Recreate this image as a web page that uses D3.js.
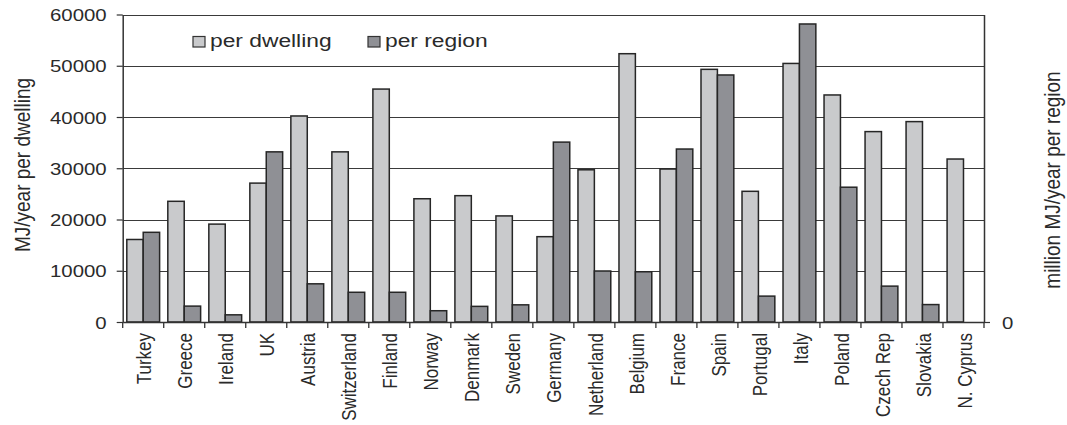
<!DOCTYPE html>
<html>
<head>
<meta charset="utf-8">
<script src="https://cdn.jsdelivr.net/npm/d3@7"></script>
<style>
  html, body { margin: 0; padding: 0; background: #fff; }
  svg { display: block; font-family: "Liberation Sans", Arial, sans-serif; }
</style>
</head>
<body>
<svg id="chart" width="1067" height="425"></svg>
<script>
const categories = ["Turkey","Greece","Ireland","UK","Austria","Switzerland","Finland","Norway","Denmark","Sweden","Germany","Netherland","Belgium","France","Spain","Portugal","Italy","Poland","Czech Rep","Slovakia","N. Cyprus"];
const perDwelling = [16100,23550,19100,27100,40200,33200,45450,24050,24650,20700,16650,29700,52350,29850,49300,25500,50450,44300,37150,39100,31800];
const perRegion   = [17500,3100,1400,33200,7450,5800,5800,2200,3050,3350,35100,9950,9800,33750,48200,5050,58150,26300,7000,3400,null];
const seriesNames = ["per dwelling","per region"];
const leftTicks = [0,10000,20000,30000,40000,50000,60000];
const rightTicks = [0];
const yTitleLeft = "MJ/year per dwelling";
const yTitleRight = "million MJ/year per region";

const colors = ["#c9cacc","#8f9095"];
const SX = 1.2; // horizontal stretch of the original picture's text

const svg = d3.select("#chart");
const m = {left: 122.7, right: 984, top: 14.5, bottom: 322};

const x0 = d3.scaleBand().domain(categories).range([m.left, m.right]).paddingInner(0).paddingOuter(0);
const x1 = d3.scaleBand().domain(seriesNames).range([0, x0.bandwidth()]).paddingInner(0).paddingOuter(0.25);
const y = d3.scaleLinear().domain([0, 60000]).range([m.bottom, m.top]);
const yR = d3.scaleLinear().domain([0, 60000]).range([m.bottom, m.top]);

// gridlines
svg.append("g").selectAll("line").data(leftTicks.filter(d => d > 0)).join("line")
  .attr("x1", m.left).attr("x2", m.right)
  .attr("y1", d => Math.round(y(d)) + 0.5).attr("y2", d => Math.round(y(d)) + 0.5)
  .attr("stroke", "#3a3a3a").attr("stroke-width", 1.2);

// bars
const rows = categories.map((c, i) => ({c, vals: [perDwelling[i], perRegion[i]]}));
const gb = svg.append("g");
rows.forEach(r => {
  r.vals.forEach((v, j) => {
    if (v == null) return;
    gb.append("rect")
      .attr("x", x0(r.c) + x1(seriesNames[j]))
      .attr("y", y(v))
      .attr("width", x1.bandwidth())
      .attr("height", y(0) - y(v))
      .attr("fill", colors[j])
      .attr("stroke", "#262626").attr("stroke-width", 1.5);
  });
});

// left axis
const gl = svg.append("g").attr("transform", `translate(${m.left},0)`)
  .call(d3.axisLeft(y).tickValues(leftTicks).tickFormat(d3.format("d")).tickSize(6).tickSizeOuter(0));
gl.select(".domain").attr("stroke", "#333").attr("stroke-width", 1.5);
gl.selectAll(".tick line").attr("stroke", "#333").attr("stroke-width", 1.2);
gl.selectAll(".tick text")
  .attr("x", 0).attr("dy", "0.36em")
  .attr("transform", `translate(-16,0) scale(${SX},1)`)
  .attr("font-size", 17).attr("fill", "#2a2a2a").attr("font-family", "Liberation Sans, Arial, sans-serif");

// right axis
const gr = svg.append("g").attr("transform", `translate(${m.right},0)`)
  .call(d3.axisRight(yR).tickValues(rightTicks).tickFormat(d3.format("d")).tickSize(6).tickSizeOuter(0));
gr.select(".domain").attr("stroke", "#333").attr("stroke-width", 1.5);
gr.selectAll(".tick line").attr("stroke", "#333").attr("stroke-width", 1.2);
gr.selectAll(".tick text")
  .attr("x", 0).attr("dy", "0.36em")
  .attr("transform", `translate(18,0) scale(${SX},1)`)
  .attr("font-size", 17).attr("fill", "#2a2a2a").attr("font-family", "Liberation Sans, Arial, sans-serif");

// bottom axis (labels)
const gx = svg.append("g").attr("transform", `translate(0,${m.bottom})`)
  .call(d3.axisBottom(x0).tickSize(0).tickSizeOuter(0));
gx.select(".domain").attr("stroke", "#333").attr("stroke-width", 1.5);
gx.selectAll(".tick text")
  .attr("x", 0).attr("y", 0).attr("dy", "0.35em")
  .attr("text-anchor", "end")
  .attr("transform", `translate(1,11) scale(${SX},1) rotate(-90)`)
  .attr("font-size", 17).attr("fill", "#2a2a2a").attr("font-family", "Liberation Sans, Arial, sans-serif");

// category boundary ticks
const bounds = categories.map(c => x0(c)).concat([m.right]);
svg.append("g").selectAll("line").data(bounds).join("line")
  .attr("x1", d => d).attr("x2", d => d)
  .attr("y1", m.bottom).attr("y2", m.bottom + 6)
  .attr("stroke", "#333").attr("stroke-width", 1.3);

// axis titles
svg.append("text")
  .attr("transform", `translate(22,165) scale(${SX},1) rotate(-90)`)
  .attr("text-anchor", "middle").attr("dy", "0.35em")
  .attr("font-size", 19).attr("fill", "#2a2a2a")
  .text(yTitleLeft);
svg.append("text")
  .attr("transform", `translate(1052,180) scale(${SX},1) rotate(-90)`)
  .attr("text-anchor", "middle").attr("dy", "0.35em")
  .attr("font-size", 19).attr("fill", "#2a2a2a")
  .text(yTitleRight);

// legend
const legendX = [193, 368];
seriesNames.forEach((s, j) => {
  const g = svg.append("g").attr("transform", `translate(${legendX[j]},0)`);
  g.append("rect").attr("x", 0).attr("y", 36.5).attr("width", 12).attr("height", 10.5)
    .attr("fill", colors[j]).attr("stroke", "#333").attr("stroke-width", 1.2);
  g.append("text").attr("transform", `translate(17,46.5) scale(${SX},1)`)
    .attr("font-size", 19).attr("fill", "#2a2a2a").text(s);
});
</script>
</body>
</html>
